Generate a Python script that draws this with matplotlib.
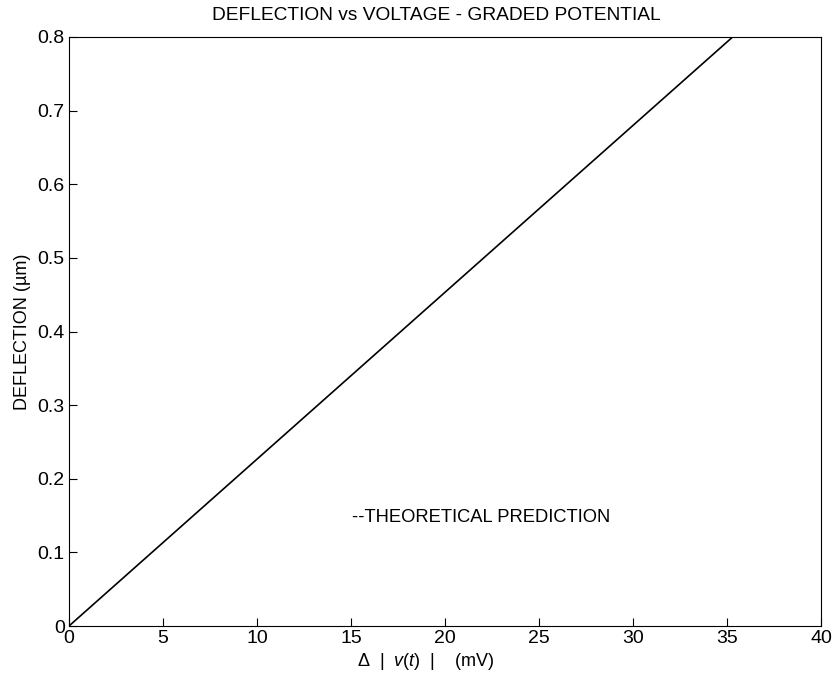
import matplotlib
matplotlib.use("Agg")
import matplotlib.pyplot as plt

plt.rcParams['font.family'] = ['Liberation Sans', 'DejaVu Sans']
plt.rcParams['mathtext.fontset'] = 'custom'
plt.rcParams['mathtext.rm'] = 'Liberation Sans'
plt.rcParams['mathtext.it'] = 'Liberation Sans:italic'

voltage = [0.0, 35.3]
deflection = [0.0, 0.8]
xticks = [0, 5, 10, 15, 20, 25, 30, 35, 40]
yticks = [0, 0.1, 0.2, 0.3, 0.4, 0.5, 0.6, 0.7, 0.8]
yticklabels = ['0', '0.1', '0.2', '0.3', '0.4', '0.5', '0.6', '0.7', '0.8']

fig = plt.figure(figsize=(8.33, 6.85), dpi=100)
ax = fig.add_axes([0.0828, 0.0861, 0.9028, 0.8599])
ax.plot(voltage, deflection, color='black', linewidth=1.2)
ax.set_xlim(0, 40)
ax.set_ylim(0, 0.8)
ax.set_xticks(xticks)
ax.set_yticks(yticks)
ax.set_yticklabels(yticklabels)
ax.tick_params(direction='in', length=6, labelsize=14, width=0.8, pad=3)
for s in ax.spines.values():
    s.set_linewidth(0.8)
ax.set_title('DEFLECTION vs VOLTAGE - GRADED POTENTIAL', fontsize=13.8, pad=12, x=0.489)
ax.set_ylabel('DEFLECTION (\u00b5m)', fontsize=13, labelpad=5)
ax.set_xlabel(r'$\Delta$  |  $\mathit{v(t)}$  |    (mV)', fontsize=13, labelpad=3, x=0.474)
ax.text(15.05, 0.147, '--THEORETICAL PREDICTION', fontsize=13.2, va='center', ha='left')
fig.savefig('out.png', dpi=100)
